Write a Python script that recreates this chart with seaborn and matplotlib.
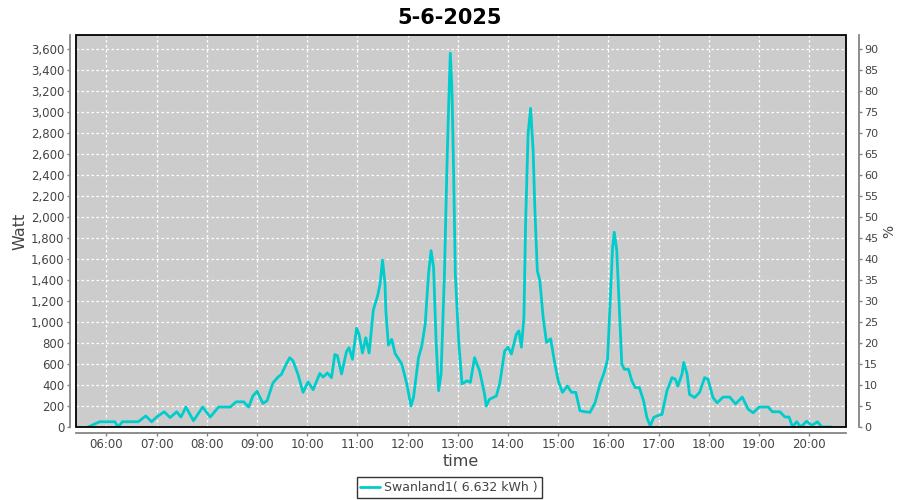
import pandas as pd
import matplotlib
matplotlib.use("Agg")
import matplotlib.pyplot as plt
import matplotlib.dates as mdates
from matplotlib.patches import Rectangle
from matplotlib.ticker import FuncFormatter, MultipleLocator
import seaborn as sns

# --- data (time of day, watt) ---
TIMES = [
    "05:38", "05:52", "06:10", "06:14", "06:19", "06:38", "06:47", "06:54",
    "07:00", "07:09", "07:16", "07:24", "07:29", "07:35", "07:44", "07:55",
    "08:04", "08:14", "08:28", "08:35", "08:44", "08:50", "08:55", "09:00",
    "09:07", "09:12", "09:19", "09:25", "09:29", "09:35", "09:39", "09:43",
    "09:49", "09:55", "10:01", "10:07", "10:15", "10:19", "10:24", "10:29",
    "10:33", "10:36", "10:41", "10:47", "10:50", "10:54", "10:59", "11:02",
    "11:06", "11:10", "11:14", "11:19", "11:24", "11:27", "11:30", "11:33",
    "11:34", "11:37", "11:41", "11:45", "11:53", "11:59", "12:04", "12:07",
    "12:13", "12:17", "12:21", "12:25", "12:28", "12:31", "12:34", "12:37",
    "12:40", "12:44", "12:47", "12:49", "12:51", "12:53", "12:55", "12:57",
    "13:01", "13:05", "13:11", "13:15", "13:20", "13:26", "13:32", "13:34",
    "13:38", "13:46", "13:50", "13:56", "14:00", "14:04", "14:10", "14:13",
    "14:16", "14:19", "14:21", "14:24", "14:27", "14:30", "14:32", "14:35",
    "14:38", "14:42", "14:46", "14:51", "14:56", "15:00", "15:05", "15:11",
    "15:16", "15:21", "15:26", "15:32", "15:38", "15:44", "15:50", "15:55",
    "15:59", "16:02", "16:05", "16:07", "16:10", "16:13", "16:16", "16:19",
    "16:24", "16:28", "16:32", "16:37", "16:42", "16:46", "16:50", "16:54",
    "16:58", "17:04", "17:10", "17:16", "17:20", "17:23", "17:28", "17:30",
    "17:34", "17:37", "17:43", "17:49", "17:55", "17:59", "18:05", "18:10",
    "18:17", "18:25", "18:32", "18:40", "18:47", "18:53", "19:00", "19:11",
    "19:16", "19:25", "19:31", "19:36", "19:40", "19:45", "19:50", "19:57",
    "20:03", "20:10", "20:15", "20:27",
]
WATT = [
    0, 50, 50, 0, 50, 50, 105, 50,
    95, 145, 90, 145, 95, 190, 60, 190,
    95, 190, 190, 240, 240, 190, 295, 340,
    225, 250, 420, 475, 500, 600, 660, 630,
    500, 330, 430, 355, 510, 475, 515, 470,
    690, 680, 505, 720, 755, 645, 940, 880,
    705, 850, 705, 1115, 1245, 1360, 1590, 1360,
    1100, 780, 835, 700, 600, 410, 200, 280,
    660, 775, 980, 1460, 1680, 1520, 820, 345,
    505, 1460, 2480, 3050, 3560, 3210, 2415, 1460,
    820, 410, 440, 425, 660, 535, 310, 200,
    265, 295, 410, 725, 760, 695, 885, 915,
    760, 1045, 1935, 2795, 3035, 2635, 2095, 1490,
    1395, 1045, 805, 840, 600, 440, 330, 390,
    330, 330, 155, 145, 140, 230, 410, 520,
    645, 1170, 1710, 1855, 1680, 1140, 600, 550,
    550, 440, 375, 375, 250, 90, 10, 90,
    105, 120, 345, 470, 455, 390, 505, 615,
    505, 310, 280, 330, 470, 455, 280, 230,
    285, 285, 220, 285, 170, 135, 190, 190,
    145, 145, 95, 95, 0, 50, 0, 55,
    15, 50, 0, 0,
]
DAY = "2025-06-05"
SERIES = "Swanland1( 6.632 kWh )"

df = pd.DataFrame({"time": pd.to_datetime([f"{DAY} {t}" for t in TIMES]), "watt": WATT})

sns.set_theme(style="ticks")
plt.rcParams["font.family"] = ["DejaVu Sans"]

fig = plt.figure(figsize=(9, 5), dpi=100)
ax = fig.add_axes([0.0839, 0.146, 0.8561, 0.7834])
ax.set_facecolor("#cccccc")

sns.lineplot(data=df, x="time", y="watt", ax=ax, color="#00cccc", linewidth=2,
             label=SERIES, legend=False)

ax.set_xlim(pd.Timestamp(f"{DAY} 05:23"), pd.Timestamp(f"{DAY} 20:44"))
ax.set_ylim(0, 3730)
ax.xaxis.set_major_locator(mdates.HourLocator())
ax.xaxis.set_major_formatter(mdates.DateFormatter("%H:%M"))
ax.yaxis.set_major_locator(MultipleLocator(200))
ax.yaxis.set_major_formatter(FuncFormatter(lambda v, p: f"{int(v):,}"))

ax.grid(True, color="white", linestyle=(0, (2, 2)), linewidth=0.9)
ax.set_axisbelow(True)

grey = "#808080"
for side in ["top", "right"]:
    ax.spines[side].set_visible(False)
for side in ["left", "bottom"]:
    ax.spines[side].set_position(("outward", 4))
    ax.spines[side].set_color(grey)
ax.tick_params(axis="both", colors=grey, labelcolor="#444444", labelsize=8.5,
               length=2, width=1, pad=2)

# black frame around the plot area
ax.add_patch(Rectangle((0, 0), 1, 1, transform=ax.transAxes, fill=False,
                       edgecolor="black", linewidth=1.3, clip_on=False, zorder=5))

ax.set_xlabel("time", fontsize=11.5, color="#444444")
ax.set_ylabel("Watt", fontsize=11.5, color="#444444")
ax.xaxis.set_label_coords(0.5, -0.068)
ax.yaxis.set_label_coords(-0.062, 0.5)

# right axis in percent
ax2 = ax.twinx()
ax2.set_ylim(0, 3730 / 40)
ax2.yaxis.set_major_locator(MultipleLocator(5))
for side in ["top", "left", "bottom"]:
    ax2.spines[side].set_visible(False)
ax2.spines["right"].set_position(("outward", 9))
ax2.spines["right"].set_color(grey)
ax2.tick_params(axis="y", colors=grey, labelcolor="#444444", labelsize=8,
                length=2, width=1, pad=2)
ax2.set_ylabel("%", fontsize=10, color="#444444", rotation=90)
ax2.yaxis.set_label_coords(1.047, 0.5)

fig.suptitle("5-6-2025", x=0.5, y=0.985, fontsize=15, fontweight="bold", color="black")

handles, labels = ax.get_legend_handles_labels()
leg = fig.legend(handles, labels, loc="center", bbox_to_anchor=(0.499, 0.025),
                 frameon=True, fancybox=False, fontsize=9, handlelength=1.6,
                 handletextpad=0.3, borderpad=0.3, borderaxespad=0)
leg.get_frame().set_edgecolor("black")
leg.get_frame().set_linewidth(1)
for t in leg.get_texts():
    t.set_color("#444444")

fig.savefig("out.png", dpi=100, facecolor="white")
